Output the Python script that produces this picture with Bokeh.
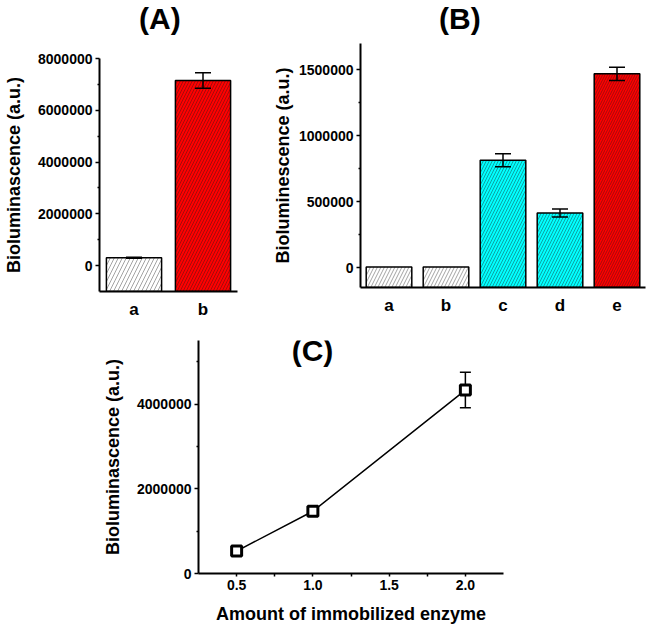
from bokeh.plotting import figure
from bokeh.models import (ColumnDataSource, Whisker, TeeHead, FixedTicker, Label,
                          NumeralTickFormatter, Spacer, FactorRange, Div)
from bokeh.layouts import column, row
from bokeh.embed import file_html
from bokeh.resources import INLINE

FONT = "Liberation Sans"

# ---------------- data ----------------
# Panel A
a_cats = ["a", "b"]
a_vals = [300000, 7150000]
a_errs = [20000, 300000]
a_colors = ["#FFFFFF", "#FF0000"]
a_hatch = [8, 6]
a_yticks = [0, 2000000, 4000000, 6000000, 8000000]
a_yminor = [1000000, 3000000, 5000000, 7000000]

# Panel B
b_cats = ["a", "b", "c", "d", "e"]
b_vals = [5000, 5000, 815000, 415000, 1470000]
b_errs = [0, 0, 50000, 30000, 50000]
b_colors = ["#FFFFFF", "#FFFFFF", "#00FFFF", "#00FFFF", "#FF0000"]
b_hatch = [7, 7, 6, 6, 5]
b_yticks = [0, 500000, 1000000, 1500000]
b_yminor = [250000, 750000, 1250000]

# Panel C
c_x = [0.5, 1.0, 2.0]
c_y = [530000, 1470000, 4330000]
c_err = [60000, 70000, 420000]
c_xticks = [0.5, 1.0, 1.5, 2.0]
c_xminor = [0.75, 1.25, 1.75]
c_yticks = [0, 2000000, 4000000]
c_yminor = [1000000, 3000000, 5000000]


def style_axis(ax, label_standoff):
    ax.axis_line_width = 2
    ax.axis_line_color = "black"
    ax.major_tick_line_width = 1.5
    ax.minor_tick_line_width = 1.5
    ax.major_tick_out = 4
    ax.major_tick_in = 0
    ax.minor_tick_out = 2
    ax.minor_tick_in = 0
    ax.major_label_text_font = FONT
    ax.major_label_text_font_style = "bold"
    ax.major_label_text_font_size = "14px"
    ax.major_label_text_color = "black"
    ax.major_label_standoff = 3
    ax.axis_label_text_font = FONT
    ax.axis_label_text_font_style = "bold"
    ax.axis_label_text_font_size = "18px"
    ax.axis_label_text_color = "black"
    ax.axis_label_standoff = label_standoff


def title_div(text, width, height, pad_left):
    html = ('<div style="font-family:\'Liberation Sans\'; font-weight:bold; '
            'font-size:30px; line-height:38px; color:black; white-space:nowrap; '
            'padding-left:%dpx;">%s</div>' % (pad_left, text))
    return Div(text=html, width=width, height=height, margin=0)


def bar_panel(cats, vals, errs, colors, hatch, y_start, y_end, yticks, yminor,
              ylabel, width, height, borders, ylab_standoff):
    p = figure(width=width, height=height, x_range=FactorRange(*cats),
               y_range=(y_start, y_end), output_backend="svg", toolbar_location=None,
               min_border_left=borders[0], min_border_right=borders[1],
               min_border_top=borders[2], min_border_bottom=borders[3])
    p.outline_line_color = None
    p.xgrid.visible = False
    p.ygrid.visible = False
    p.x_range.range_padding = 0
    src = ColumnDataSource(dict(x=cats, top=vals, bottom=[y_start] * len(cats),
                                color=colors, scale=hatch))
    p.vbar(x="x", width=0.8, top="top", bottom="bottom", source=src,
           fill_color="color", line_color="black", line_width=1.5,
           hatch_pattern="/", hatch_scale="scale", hatch_color="#1a1a1a",
           hatch_weight=0.9, hatch_alpha=0.45)
    ex = [c for c, e in zip(cats, errs) if e > 0]
    eu = [v + e for v, e in zip(vals, errs) if e > 0]
    el = [v - e for v, e in zip(vals, errs) if e > 0]
    wsrc = ColumnDataSource(dict(x=ex, upper=eu, lower=el))
    p.add_layout(Whisker(base="x", upper="upper", lower="lower", source=wsrc,
                         level="overlay", line_width=1.5, line_color="black",
                         upper_head=TeeHead(size=16, line_width=1.5, line_color="black"),
                         lower_head=TeeHead(size=16, line_width=1.5, line_color="black")))
    p.yaxis.ticker = FixedTicker(ticks=yticks, minor_ticks=yminor)
    p.yaxis.formatter = NumeralTickFormatter(format="0")
    p.yaxis.axis_label = ylabel
    style_axis(p.yaxis[0], ylab_standoff)
    style_axis(p.xaxis[0], 0)
    p.xaxis.major_tick_out = 0
    p.xaxis.minor_tick_out = 0
    p.xaxis.major_label_text_font_size = "17px"
    p.xaxis.major_label_standoff = 8
    return p


pA = bar_panel(a_cats, a_vals, a_errs, a_colors, a_hatch, -1000000, 8000000,
               a_yticks, a_yminor, "Bioluminascence (a.u.)",
               250, 290, (97, 13, 18, 39), 11)
tA = title_div("(A)", 250, 40, 139)

pB = bar_panel(b_cats, b_vals, b_errs, b_colors, b_hatch, -150000, 1700000,
               b_yticks, b_yminor, "Bioluminescence (a.u.)",
               400, 290, (110, 5, 3, 43), 3)
tB = title_div("(B)", 400, 40, 189)

# Panel C
pC = figure(width=430, height=297, x_range=(0.25, 2.25), y_range=(0, 5500000),
            output_backend="svg", toolbar_location=None,
            min_border_left=108, min_border_right=17, min_border_top=10,
            min_border_bottom=54)
pC.outline_line_color = None
pC.xgrid.visible = False
pC.ygrid.visible = False
csrc = ColumnDataSource(dict(x=c_x, y=c_y,
                             upper=[v + e for v, e in zip(c_y, c_err)],
                             lower=[v - e for v, e in zip(c_y, c_err)]))
pC.add_layout(Whisker(base="x", upper="upper", lower="lower", source=csrc,
                      level="underlay", line_width=1.5, line_color="black",
                      upper_head=TeeHead(size=11, line_width=1.5, line_color="black"),
                      lower_head=TeeHead(size=11, line_width=1.5, line_color="black")))
pC.line("x", "y", source=csrc, line_width=1.5, line_color="black")
pC.scatter("x", "y", source=csrc, marker="square", size=10, fill_color="white",
           line_color="black", line_width=3)
pC.xaxis.ticker = FixedTicker(ticks=c_xticks, minor_ticks=c_xminor)
pC.xaxis.formatter = NumeralTickFormatter(format="0.0")
pC.yaxis.ticker = FixedTicker(ticks=c_yticks, minor_ticks=c_yminor)
pC.yaxis.formatter = NumeralTickFormatter(format="0")
pC.yaxis.axis_label = "Bioluminascence (a.u.)"
pC.xaxis.axis_label = "Amount of immobilized enzyme"
style_axis(pC.yaxis[0], 11)
style_axis(pC.xaxis[0], 11)
pC.xaxis.major_tick_out = 3
pC.xaxis.minor_tick_out = 3
pC.add_layout(Label(x=114, y=223, x_units="screen", y_units="screen", text="(C)",
                    text_font=FONT, text_font_style="bold", text_font_size="30px",
                    text_align="center", text_baseline="middle", text_color="black"))

layout = column(row(column(tA, pA), column(tB, pB)),
                row(Spacer(width=90, height=297), pC))

with open("out.html", "w") as f:
    f.write(file_html(layout, INLINE))
